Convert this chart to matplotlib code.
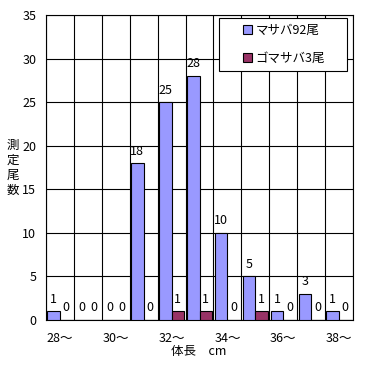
import numpy as np
import matplotlib
matplotlib.use("Agg")
import matplotlib.pyplot as plt
from matplotlib.patches import Rectangle

plt.rcParams['font.family'] = ['Noto Sans CJK JP', 'DejaVu Sans']

# 体長階級（cm）
categories = ['28〜', '29〜', '30〜', '31〜', '32〜', '33〜', '34〜', '35〜', '36〜', '37〜', '38〜']
masaba = [1, 0, 0, 18, 25, 28, 10, 5, 1, 3, 1]
gomasaba = [0, 0, 0, 0, 1, 1, 0, 1, 0, 0, 0]
series_names = ['マサバ92尾', 'ゴマサバ3尾']
series_colors = ['#9999FF', '#993366']

fig = plt.figure(figsize=(3.71, 3.65), dpi=100)
ax = fig.add_axes([46 / 371, 45 / 365, 307 / 371, 305 / 365])

x = np.arange(len(categories))
w = 0.45
b1 = ax.bar(x - w / 2, masaba, w, color=series_colors[0], edgecolor='black', linewidth=0.8,
            label=series_names[0], zorder=3)
b2 = ax.bar(x + w / 2, gomasaba, w, color=series_colors[1], edgecolor='black', linewidth=0.8,
            label=series_names[1], zorder=3)

# value labels above each bar
for bars, vals in ((b1, masaba), (b2, gomasaba)):
    for r, v in zip(bars, vals):
        ax.annotate(str(v), (r.get_x() + r.get_width() / 2, v), xytext=(0, 4),
                    textcoords='offset points', ha='center', va='bottom', fontsize=9, zorder=4)

ax.set_xlim(-0.5, len(categories) - 0.5)
ax.set_ylim(0, 35)
ax.set_yticks(np.arange(0, 36, 5))
ax.set_xticks(x[::2])
ax.set_xticklabels(categories[::2])
ax.set_xticks(np.arange(-0.5, len(categories), 1), minor=True)
ax.tick_params(axis='both', which='both', length=0, labelsize=9)
ax.tick_params(axis='x', pad=9)
ax.tick_params(axis='y', pad=7)
ax.grid(True, which='minor', axis='x', color='black', linewidth=0.8, zorder=0)
ax.grid(True, which='major', axis='y', color='black', linewidth=0.8, zorder=0)
for s in ax.spines.values():
    s.set_linewidth(0.8)

fig.text(199 / 371, 1 - 352 / 365, '体長　cm', ha='center', va='center', fontsize=9)
# vertical axis title, one character per line
for i, ch in enumerate('測定尾数'):
    fig.text(13 / 371, 1 - (145 + i * 15) / 365, ch, ha='center', va='center', fontsize=9)

# legend frame drawn separately so the entries sit centred in a wide box
ax.add_patch(Rectangle((0.564, 0.816), 0.416, 0.174, transform=ax.transAxes,
                       facecolor='white', edgecolor='black', linewidth=0.8, zorder=5))
leg = ax.legend(loc='center', bbox_to_anchor=(0.775, 0.903), frameon=False,
                fontsize=9, handlelength=0.7, handleheight=0.7, labelspacing=1.2,
                borderpad=0, handletextpad=0.3, borderaxespad=0)
leg.set_zorder(6)

fig.savefig('out.png', dpi=100)
